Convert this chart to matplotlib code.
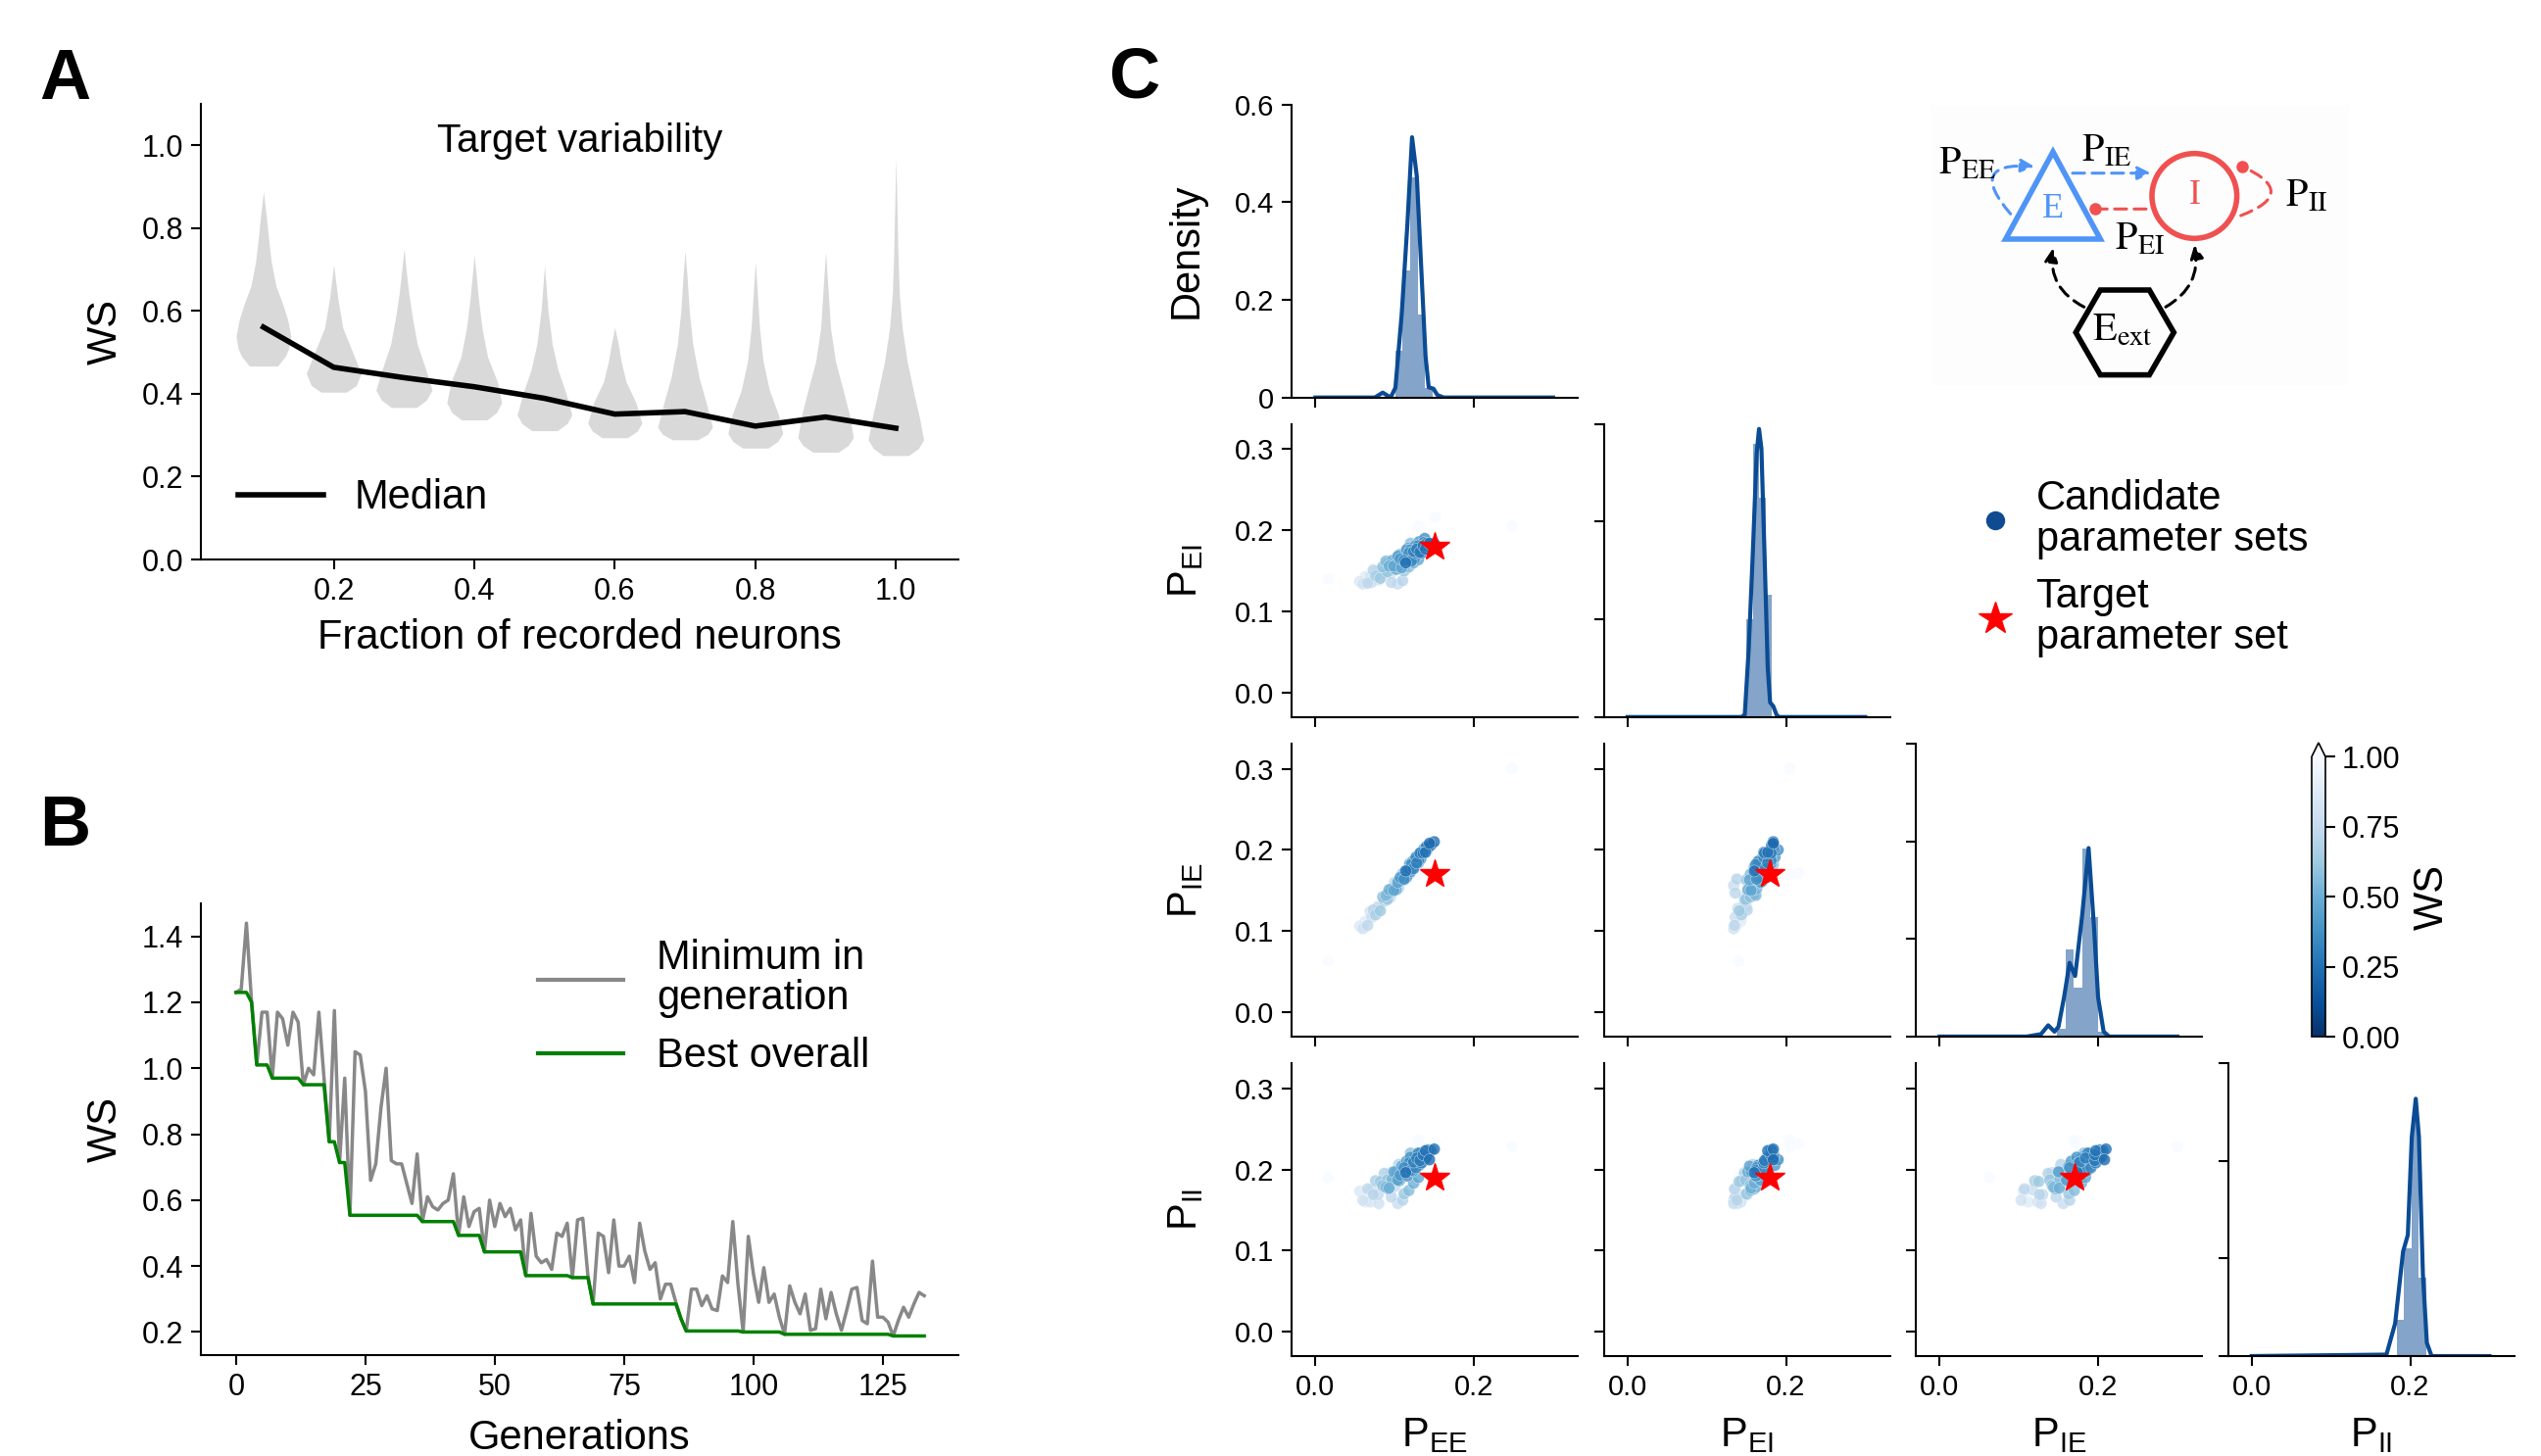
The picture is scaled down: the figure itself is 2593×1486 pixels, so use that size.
#!/usr/bin/env python3
"""
Three panel figure: WS variability vs. fraction of recorded neurons (A),
optimisation progress over generations (B) and a pair plot of the
candidate connection probabilities (C).
"""

import numpy as np
import matplotlib
matplotlib.use('Agg')
import matplotlib.pyplot as plt
from matplotlib.lines import Line2D
from matplotlib.patches import Polygon, Circle, RegularPolygon, FancyArrowPatch, Rectangle

plt.rcParams['font.family'] = ['Liberation Sans', 'DejaVu Sans']
plt.rcParams['mathtext.default'] = 'regular'
plt.rcParams['axes.linewidth'] = 1.5

# ---------------- Panel A data ----------------
fractions = [0.1, 0.2, 0.3, 0.4, 0.5, 0.6, 0.7, 0.8, 0.9, 1.0]
median_ws = [0.561, 0.464, 0.439, 0.417, 0.389, 0.351, 0.357, 0.322, 0.344, 0.317]

# violin outlines: WS levels (bottom to top) and half widths
violin_levels = [
    [0.467, 0.490, 0.509, 0.539, 0.579, 0.619, 0.659, 0.720, 0.780, 0.830, 0.888],
    [0.404, 0.420, 0.449, 0.500, 0.559, 0.629, 0.711],
    [0.367, 0.385, 0.409, 0.459, 0.519, 0.579, 0.640, 0.700, 0.750],
    [0.337, 0.355, 0.379, 0.429, 0.489, 0.559, 0.629, 0.735],
    [0.311, 0.328, 0.349, 0.399, 0.459, 0.519, 0.600, 0.709],
    [0.294, 0.310, 0.329, 0.379, 0.429, 0.479, 0.519, 0.561],
    [0.289, 0.302, 0.319, 0.379, 0.439, 0.519, 0.600, 0.680, 0.745],
    [0.269, 0.285, 0.304, 0.349, 0.409, 0.479, 0.559, 0.640, 0.718],
    [0.259, 0.275, 0.294, 0.349, 0.409, 0.479, 0.559, 0.640, 0.742],
    [0.251, 0.268, 0.289, 0.339, 0.399, 0.479, 0.559, 0.640, 0.740, 0.860, 0.970],
]
violin_halfwidths = [
    [0.020, 0.031, 0.036, 0.039, 0.0345, 0.027, 0.018, 0.011, 0.007, 0.004, 0.0],
    [0.018, 0.032, 0.039, 0.027, 0.013, 0.006, 0.0],
    [0.018, 0.032, 0.040, 0.031, 0.019, 0.0125, 0.007, 0.003, 0.0],
    [0.018, 0.032, 0.039, 0.033, 0.019, 0.011, 0.006, 0.0],
    [0.018, 0.032, 0.039, 0.031, 0.019, 0.011, 0.005, 0.0],
    [0.018, 0.032, 0.0385, 0.030, 0.016, 0.009, 0.005, 0.0],
    [0.018, 0.032, 0.039, 0.030, 0.020, 0.011, 0.006, 0.003, 0.0],
    [0.018, 0.032, 0.039, 0.033, 0.020, 0.011, 0.006, 0.003, 0.0],
    [0.018, 0.032, 0.0395, 0.034, 0.025, 0.014, 0.007, 0.004, 0.0],
    [0.018, 0.032, 0.0395, 0.034, 0.026, 0.016, 0.009, 0.005, 0.003, 0.0015, 0.0],
]

# ---------------- Panel B data ----------------
# minimum WS in each generation (0..133)
min_in_generation = [
    1.23, 1.24, 1.44, 1.20, 1.01, 1.17, 1.17, 0.97, 1.17, 1.15,
    1.07, 1.17, 1.14, 0.95, 1.00, 0.98, 1.17, 0.97, 0.777, 1.175,
    0.714, 0.97, 0.554, 1.05, 1.04, 0.93, 0.66, 0.71, 0.88, 1.00,
    0.72, 0.71, 0.71, 0.65, 0.59, 0.74, 0.535, 0.61, 0.58, 0.57,
    0.59, 0.60, 0.68, 0.493, 0.61, 0.52, 0.565, 0.575, 0.443, 0.60,
    0.52, 0.59, 0.55, 0.575, 0.51, 0.54, 0.371, 0.56, 0.43, 0.41,
    0.42, 0.39, 0.50, 0.49, 0.53, 0.365, 0.54, 0.545, 0.37, 0.285,
    0.50, 0.49, 0.38, 0.54, 0.40, 0.40, 0.43, 0.35, 0.53, 0.445,
    0.39, 0.41, 0.30, 0.345, 0.345, 0.29, 0.24, 0.203, 0.33, 0.33,
    0.28, 0.31, 0.27, 0.265, 0.37, 0.35, 0.535, 0.345, 0.200, 0.49,
    0.375, 0.29, 0.395, 0.29, 0.315, 0.245, 0.193, 0.34, 0.29, 0.255,
    0.315, 0.205, 0.21, 0.33, 0.24, 0.32, 0.255, 0.205, 0.265, 0.33,
    0.335, 0.235, 0.225, 0.415, 0.245, 0.245, 0.23, 0.188, 0.235, 0.275,
    0.245, 0.285, 0.32, 0.31,
]

# ---------------- Panel C data ----------------
param_names = ['$P_{EE}$', '$P_{EI}$', '$P_{IE}$', '$P_{II}$']
target_params = [0.15, 0.18, 0.17, 0.19]

cand_pee = [0.056, 0.060, 0.063, 0.066, 0.069, 0.071, 0.073, 0.076, 0.079, 0.082,
            0.085, 0.087, 0.089, 0.091, 0.093, 0.095, 0.097, 0.099, 0.100, 0.102,
            0.104, 0.105, 0.107, 0.109, 0.110, 0.112, 0.114, 0.115, 0.116, 0.118,
            0.119, 0.120, 0.121, 0.122, 0.123, 0.124, 0.125, 0.126, 0.127, 0.128,
            0.129, 0.130, 0.132, 0.133, 0.134, 0.136, 0.137, 0.139, 0.140, 0.142,
            0.144, 0.146, 0.150, 0.118, 0.112, 0.124, 0.130, 0.120,
            0.096, 0.104, 0.110, 0.080, 0.092, 0.106, 0.117, 0.131, 0.138,
            0.016, 0.248, 0.151, 0.130]
cand_pei = [0.137, 0.134, 0.143, 0.135, 0.143, 0.136, 0.151, 0.144, 0.150, 0.141,
            0.155, 0.148, 0.162, 0.149, 0.156, 0.147, 0.163, 0.156, 0.163, 0.152,
            0.168, 0.158, 0.165, 0.154, 0.170, 0.163, 0.160, 0.176, 0.162, 0.172,
            0.169, 0.176, 0.162, 0.176, 0.167, 0.174, 0.165, 0.181, 0.172, 0.177,
            0.170, 0.181, 0.173, 0.181, 0.172, 0.181, 0.185, 0.177, 0.184, 0.181,
            0.184, 0.182, 0.184, 0.155, 0.150, 0.160, 0.164, 0.184,
            0.136, 0.134, 0.138, 0.139, 0.160, 0.170, 0.178, 0.186, 0.190,
            0.140, 0.205, 0.216, 0.205]
cand_pie = [0.106, 0.103, 0.112, 0.107, 0.124, 0.117, 0.126, 0.120, 0.130, 0.125,
            0.142, 0.137, 0.144, 0.139, 0.151, 0.142, 0.152, 0.150, 0.160, 0.151,
            0.160, 0.153, 0.166, 0.163, 0.171, 0.164, 0.174, 0.166, 0.175, 0.175,
            0.183, 0.173, 0.182, 0.177, 0.186, 0.177, 0.186, 0.183, 0.191, 0.184,
            0.190, 0.187, 0.196, 0.189, 0.197, 0.196, 0.201, 0.197, 0.204, 0.202,
            0.208, 0.206, 0.210, 0.170, 0.163, 0.179, 0.184, 0.182,
            0.147, 0.156, 0.164, 0.128, 0.146, 0.161, 0.173, 0.191, 0.200,
            0.063, 0.300, 0.171, 0.170]
cand_pii = [0.173, 0.162, 0.160, 0.176, 0.160, 0.175, 0.169, 0.186, 0.169, 0.185,
            0.180, 0.195, 0.178, 0.187, 0.177, 0.196, 0.188, 0.197, 0.179, 0.197,
            0.187, 0.206, 0.193, 0.204, 0.190, 0.202, 0.196, 0.210, 0.192, 0.208,
            0.203, 0.215, 0.199, 0.212, 0.198, 0.209, 0.205, 0.217, 0.202, 0.214,
            0.207, 0.220, 0.211, 0.220, 0.208, 0.218, 0.216, 0.223, 0.215, 0.224,
            0.212, 0.223, 0.225, 0.174, 0.170, 0.183, 0.190, 0.220,
            0.166, 0.158, 0.162, 0.158, 0.176, 0.186, 0.196, 0.205, 0.212,
            0.190, 0.228, 0.232, 0.236]
cand_ws = [0.85, 0.80, 0.88, 0.72, 0.82, 0.76, 0.70, 0.66, 0.74, 0.62,
           0.58, 0.68, 0.54, 0.60, 0.50, 0.78, 0.52, 0.46, 0.74, 0.48,
           0.44, 0.70, 0.40, 0.45, 0.66, 0.36, 0.24, 0.42, 0.40, 0.36,
           0.48, 0.38, 0.34, 0.44, 0.40, 0.31, 0.36, 0.40, 0.33, 0.30,
           0.42, 0.34, 0.28, 0.36, 0.31, 0.27, 0.35, 0.26, 0.30, 0.33,
           0.22, 0.27, 0.25, 0.56, 0.62, 0.50, 0.46, 0.58,
           0.72, 0.76, 0.70, 0.80, 0.55, 0.50, 0.45, 0.40, 0.36,
           1.20, 1.20, 1.10, 1.05]

# diagonal: histogram bins and density curves
hist_edges = [
    [0.1005, 0.110, 0.1195, 0.129, 0.1385, 0.148],
    [0.150, 0.158, 0.166, 0.174, 0.182],
    [0.148, 0.159, 0.169, 0.180, 0.190, 0.200, 0.210],
    [0.183, 0.192, 0.202, 0.211, 0.220],
]
hist_heights = [
    [0.095, 0.26, 0.45, 0.17, 0.02],
    [0.20, 0.56, 0.45, 0.25],
    [0.015, 0.178, 0.10, 0.385, 0.245, 0.01],
    [0.075, 0.22, 0.49, 0.16],
]
kde_x = [
    [0.0, 0.075, 0.085, 0.095, 0.101, 0.109, 0.116, 0.122, 0.128, 0.134, 0.139, 0.143, 0.149, 0.154, 0.162, 0.30],
    [0.0, 0.144, 0.148, 0.153, 0.158, 0.163, 0.166, 0.169, 0.173, 0.177, 0.180, 0.184, 0.188, 0.191, 0.30],
    [0.0, 0.110, 0.128, 0.137, 0.145, 0.150, 0.157, 0.164, 0.171, 0.180, 0.188, 0.195, 0.200, 0.207, 0.214, 0.30],
    [0.0, 0.170, 0.181, 0.191, 0.197, 0.202, 0.207, 0.211, 0.216, 0.221, 0.227, 0.30],
]
kde_y = [
    [0.0, 0.0, 0.01, 0.0, 0.02, 0.172, 0.352, 0.533, 0.453, 0.252, 0.085, 0.021, 0.018, 0.005, 0.0, 0.0],
    [0.0, 0.0, 0.005, 0.14, 0.33, 0.54, 0.59, 0.55, 0.33, 0.10, 0.03, 0.022, 0.005, 0.0, 0.0],
    [0.0, 0.0, 0.005, 0.023, 0.01, 0.02, 0.08, 0.151, 0.124, 0.25, 0.386, 0.22, 0.08, 0.01, 0.0, 0.0],
    [0.0, 0.003, 0.067, 0.214, 0.248, 0.449, 0.527, 0.449, 0.168, 0.027, 0.0, 0.0],
]

W, H = 2593, 1486
TICK = 21
LABEL = 30
DIAG_BLUE = '#0a4b94'


def axes_px(fig, left, top, right, bottom):
    """Add axes given in pixel coordinates (origin top left)."""
    return fig.add_axes([left / W, 1 - bottom / H, (right - left) / W, (bottom - top) / H])


def style_axes(ax, size=TICK):
    ax.spines['top'].set_visible(False)
    ax.spines['right'].set_visible(False)
    ax.tick_params(direction='out', length=7, width=1.5, pad=6, labelsize=size)


def draw_panel_a(fig):
    ax = axes_px(fig, 205, 106, 978, 571)
    style_axes(ax, 22)
    for x, lev, hw in zip(fractions, violin_levels, violin_halfwidths):
        lev = np.array(lev)
        hw = np.array(hw)
        ax.fill_betweenx(lev, x - hw, x + hw, color='#d9d9d9', lw=0)
    ax.plot(fractions, median_ws, color='black', lw=4, label='Median')
    ax.set_xlim(0.011, 1.089)
    ax.set_ylim(0, 1.1)
    ax.set_xticks([0.2, 0.4, 0.6, 0.8, 1.0])
    ax.set_yticks([0.0, 0.2, 0.4, 0.6, 0.8, 1.0])
    ax.set_xlabel('Fraction of recorded neurons', fontsize=LABEL)
    ax.set_ylabel('WS', fontsize=LABEL)
    ax.xaxis.set_label_coords(0.5, -0.13)
    ax.yaxis.set_label_coords(-0.10, 0.5)
    ax.text(0.5, 0.918, 'Target variability', transform=ax.transAxes,
            ha='center', va='center', fontsize=29)
    ax.legend(loc='center left', bbox_to_anchor=(0.049, 0.135), frameon=False,
              fontsize=LABEL, handlelength=2.1, handletextpad=0.75,
              borderpad=0, borderaxespad=0)


def draw_panel_b(fig):
    ax = axes_px(fig, 205, 922, 978, 1383)
    style_axes(ax, 22)
    gens = np.arange(len(min_in_generation))
    best_overall = np.minimum.accumulate(min_in_generation)
    ax.plot(gens, min_in_generation, color='#888888', lw=2.5, label='Minimum in\ngeneration')
    ax.plot(gens, best_overall, color='green', lw=2.5, label='Best overall')
    ax.set_xlim(-6.8, 139.6)
    ax.set_ylim(0.13, 1.5)
    ax.set_xticks([0, 25, 50, 75, 100, 125])
    ax.set_yticks([0.2, 0.4, 0.6, 0.8, 1.0, 1.2, 1.4])
    ax.set_xlabel('Generations', fontsize=LABEL)
    ax.set_ylabel('WS', fontsize=LABEL)
    ax.xaxis.set_label_coords(0.5, -0.14)
    ax.yaxis.set_label_coords(-0.10, 0.5)
    leg = ax.legend(loc='center left', bbox_to_anchor=(0.445, 0.77), frameon=False,
                    fontsize=LABEL, handlelength=2.1, handletextpad=0.8,
                    borderpad=0, borderaxespad=0, labelspacing=0.45)
    for t in leg.get_texts():
        t.set_linespacing(1.05)
    for ln in leg.get_lines():
        ln.set_linewidth(3)


def draw_panel_c(fig):
    cand = [np.array(cand_pee), np.array(cand_pei), np.array(cand_pie), np.array(cand_pii)]
    ws = np.array(cand_ws)
    order = np.argsort(ws)[::-1]
    lims = (-0.03, 0.331)

    for i in range(4):
        for j in range(i + 1):
            left = 1318 + 318.5 * j
            top = 106.7 + 326.1 * i
            ax = axes_px(fig, left, top, left + 292, top + 299)
            style_axes(ax)
            ax.set_xlim(lims)
            ax.set_xticks([0.0, 0.2])
            if i == j:
                e = np.array(hist_edges[i])
                ax.bar(e[:-1], hist_heights[i], width=np.diff(e), align='edge',
                       color=DIAG_BLUE, alpha=0.5, lw=0)
                ax.plot(kde_x[i], kde_y[i], color=DIAG_BLUE, lw=3)
                ax.set_ylim(0, 0.6)
                ax.set_yticks([0, 0.2, 0.4, 0.6])
                if i == 0:
                    ax.set_yticklabels(['0', '0.2', '0.4', '0.6'])
                    ax.set_ylabel('Density', fontsize=LABEL)
                    ax.yaxis.set_label_coords(-0.30, 0.5)
                else:
                    ax.tick_params(labelleft=False)
            else:
                ax.scatter(cand[j][order], cand[i][order], c=ws[order], cmap='Blues_r',
                           vmin=0, vmax=1, s=75, alpha=0.8, edgecolors='white',
                           linewidths=0.3, zorder=2)
                ax.plot(target_params[j], target_params[i], ls='none', marker='*',
                        markersize=22, color='red', zorder=3)
                ax.set_ylim(lims)
                ax.set_yticks([0.0, 0.1, 0.2, 0.3])
                if j == 0:
                    ax.set_yticklabels(['0.0', '0.1', '0.2', '0.3'])
                    ax.set_ylabel(param_names[i], fontsize=LABEL)
                    ax.yaxis.set_label_coords(-0.30, 0.5)
                else:
                    ax.tick_params(labelleft=False)
            if i == 3:
                ax.set_xticklabels(['0.0', '0.2'])
                ax.set_xlabel(param_names[j], fontsize=LABEL)
                ax.xaxis.set_label_coords(0.5, -0.205)
            else:
                ax.tick_params(labelbottom=False)

    # colour bar
    cax = axes_px(fig, 2359, 758, 2373, 1058)
    sm = matplotlib.cm.ScalarMappable(norm=matplotlib.colors.Normalize(0, 1), cmap='Blues_r')
    cb = fig.colorbar(sm, cax=cax, extend='max', ticks=[0, 0.25, 0.5, 0.75, 1.0], format='%.2f')
    cb.outline.set_linewidth(1.2)
    cb.ax.tick_params(labelsize=22, length=7, width=1.5, pad=5)
    cb.set_label('WS', fontsize=LABEL)
    cb.ax.yaxis.set_label_coords(7.35, 0.5)

    # legend
    handles = [
        Line2D([], [], ls='none', marker='o', markersize=14,
               markerfacecolor='#0f4b91', markeredgecolor='none'),
        Line2D([], [], ls='none', marker='*', markersize=25,
               markerfacecolor='red', markeredgecolor='red'),
    ]
    leg = fig.legend(handles, ['Candidate\nparameter sets', 'Target\nparameter set'],
                     loc='center left', bbox_to_anchor=(2015 / W, 1 - 580 / H),
                     frameon=False, fontsize=LABEL, handlelength=1.0, handletextpad=0.5,
                     borderpad=0, borderaxespad=0, labelspacing=0.45)
    for t in leg.get_texts():
        t.set_linespacing(1.05)


def draw_network(fig):
    ax = axes_px(fig, 1950, 100, 2400, 400)
    ax.set_xlim(1950, 2400)
    ax.set_ylim(400, 100)
    ax.axis('off')
    blue = '#4f94f7'
    red = '#f05050'
    dash = (0, (4, 2.5))
    serif = dict(fontfamily='Liberation Serif', math_fontfamily='stix')

    ax.add_patch(Rectangle((1970, 107), 427, 286, facecolor='#fdfdfd', edgecolor='none'))

    # populations
    ax.add_patch(Polygon([(2095, 155), (2046.7, 244), (2143.3, 244)], closed=True,
                         fill=False, edgecolor=blue, lw=4, joinstyle='miter'))
    ax.text(2095, 214, 'E', color=blue, ha='center', va='center', fontsize=26, **serif)
    ax.add_patch(Circle((2239.3, 200), 43.3, fill=False, edgecolor=red, lw=4))
    ax.text(2239.3, 199, 'I', color=red, ha='center', va='center', fontsize=26, **serif)
    ax.add_patch(RegularPolygon((2168.3, 339.3), 6, radius=50, orientation=np.pi / 6,
                                fill=False, edgecolor='black', lw=4))
    ax.text(2166, 338, r'$\mathrm{E_{ext}}$', ha='center', va='center', fontsize=29, **serif)

    # connections
    def arrow(p0, p1, color, rad=0.0, head=True):
        style = '-|>' if head else '-'
        ax.add_patch(FancyArrowPatch(p0, p1, connectionstyle='arc3,rad=%s' % rad,
                                     arrowstyle=style, mutation_scale=20, color=color,
                                     lw=2.2, linestyle=dash, shrinkA=0, shrinkB=0))

    arrow((2051.7, 218.3), (2076, 170), blue, rad=-1.2)
    arrow((2115, 176.7), (2195, 176.7), blue)
    arrow((2190, 213.3), (2140, 213.3), red, head=False)
    ax.plot(2138.3, 212.7, 'o', color=red, markersize=8)
    arrow((2286.7, 220), (2288.3, 170), red, rad=1.2, head=False)
    ax.plot(2288.3, 170, 'o', color=red, markersize=8)
    arrow((2126.7, 313.3), (2095, 253.3), 'black', rad=-0.35)
    arrow((2210, 313.3), (2239.3, 250), 'black', rad=0.35)

    ax.text(2008, 168, r'$\mathrm{P_{EE}}$', ha='center', va='center', fontsize=29, **serif)
    ax.text(2150, 155, r'$\mathrm{P_{IE}}$', ha='center', va='center', fontsize=29, **serif)
    ax.text(2184, 245, r'$\mathrm{P_{EI}}$', ha='center', va='center', fontsize=29, **serif)
    ax.text(2354, 201, r'$\mathrm{P_{II}}$', ha='center', va='center', fontsize=29, **serif)


def main():
    fig = plt.figure(figsize=(W / 100, H / 100), dpi=100)

    draw_panel_a(fig)
    draw_panel_b(fig)
    draw_panel_c(fig)
    draw_network(fig)

    # panel letters
    for letter, x, y in [('A', 66, 82), ('B', 66, 844), ('C', 1158, 80)]:
        fig.text(x / W, 1 - y / H, letter, ha='center', va='center',
                 fontsize=52, fontweight='bold')

    fig.savefig('out.png', dpi=100)


if __name__ == '__main__':
    main()
